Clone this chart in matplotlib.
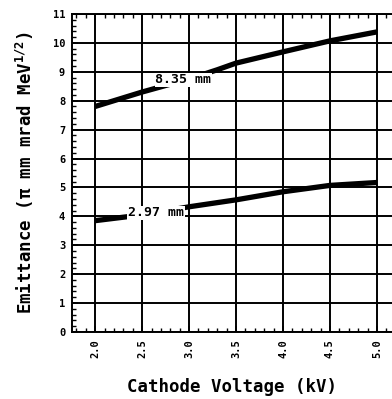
import numpy as np
import matplotlib
matplotlib.use("Agg")
import matplotlib.pyplot as plt
from matplotlib.ticker import MultipleLocator

plt.rcParams['font.family'] = ['DejaVu Sans Mono', 'DejaVu Sans']
plt.rcParams['font.weight'] = 'bold'
plt.rcParams['mathtext.fontset'] = 'custom'
plt.rcParams['mathtext.rm'] = 'DejaVu Sans Mono:bold'
plt.rcParams['mathtext.it'] = 'DejaVu Sans Mono:bold'
plt.rcParams['mathtext.bf'] = 'DejaVu Sans Mono:bold'

# --- data ---
volt_835 = [2.0, 2.5, 3.0, 3.3, 3.5, 4.0, 4.5, 5.0]
emit_835 = [7.8, 8.3, 8.75, 9.07, 9.3, 9.69, 10.07, 10.38]

volt_297 = [2.0, 2.5, 3.0, 3.5, 4.0, 4.5, 5.0]
emit_297 = [3.85, 4.05, 4.33, 4.57, 4.85, 5.07, 5.17]

labels = ["8.35 mm", "2.97 mm"]
label_pos = [(2.64, 8.72), (2.35, 4.12)]

xticks = [2.0, 2.5, 3.0, 3.5, 4.0, 4.5, 5.0]
yticks = list(range(0, 12))

fig = plt.figure(figsize=(3.92, 3.99), dpi=100)
ax = fig.add_axes([0.184, 0.168, 0.816, 0.797])

ax.plot(volt_835, emit_835, color="black", linewidth=3.8, solid_capstyle="butt", zorder=3)
ax.plot(volt_297, emit_297, color="black", linewidth=3.8, solid_capstyle="butt", zorder=3)

for txt, (x, y) in zip(labels, label_pos):
    ax.text(x, y, txt, fontsize=9.5, fontweight="bold", ha="left", va="center", zorder=4,
            bbox=dict(facecolor="white", edgecolor="none", pad=0.5))

ax.set_xlim(1.755, 5.16)
ax.set_ylim(0, 11)
ax.set_xticks(xticks)
ax.set_xticklabels([f"{v:.1f}" for v in xticks], rotation=90, fontsize=7.5, fontweight="bold")
ax.set_yticks(yticks)
ax.set_yticklabels([str(v) for v in yticks], fontsize=7.5, fontweight="bold")
ax.xaxis.set_minor_locator(MultipleLocator(0.1))
ax.yaxis.set_minor_locator(MultipleLocator(0.2))
ax.tick_params(which="major", direction="in", length=4, width=1.2, top=True, pad=5)
ax.tick_params(which="minor", direction="in", length=3, width=1, top=True)

ax.grid(True, which="major", color="black", linewidth=1.4)
ax.set_axisbelow(True)
for s in ["left", "top", "bottom"]:
    ax.spines[s].set_linewidth(1.4)
ax.spines["right"].set_visible(False)

ax.set_xlabel("Cathode Voltage (kV)", fontsize=12.5, fontweight="bold", labelpad=15)
ax.set_ylabel(r"Emittance ($\pi$ mm mrad MeV$^{1/2}$)", fontsize=12.5, fontweight="bold", labelpad=12)

fig.savefig("out.png", dpi=100)
